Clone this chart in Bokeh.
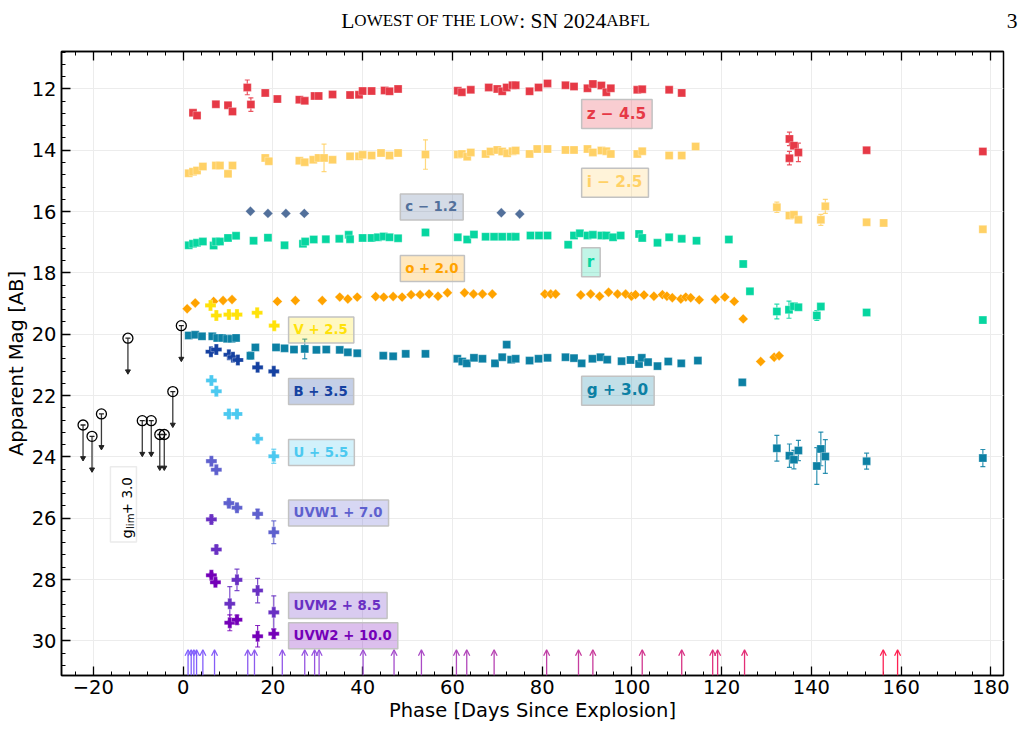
import numpy as np
from bokeh.plotting import figure
from bokeh.models import (Range1d, LinearAxis, FixedTicker, Label, BoxAnnotation,
                          Arrow, OpenHead, ColumnDataSource)
from bokeh.embed import file_html
from bokeh.resources import INLINE
from bokeh.core.properties import value

# ---------------- photometry: phase [d since explosion], AB mag, 1-sigma ----------------
z_t = [2.2, 3.1, 7.3, 10.0, 11.0, 14.3, 15.1, 18.3, 21.0, 25.9, 27.1, 29.3, 30.2, 33.3, 37.2, 39.2,
       40.0, 42.0, 44.9, 46.0, 47.9, 61.2, 62.1, 64.1, 68.1, 70.0, 71.1, 72.1, 73.4, 74.1, 77.2,
       79.2, 81.2, 85.2, 87.1, 90.1, 91.3, 93.2, 94.3, 95.3, 101.2, 102.3, 108.3, 111.1, 135.1,
       136.1, 137.1, 135.1, 152.3, 178.2]
z_mag = [17.28, 17.37, 17.00, 17.03, 17.24, 16.45, 17.01, 16.63, 16.83, 16.85, 16.89, 16.73, 16.73,
         16.68, 16.70, 16.69, 16.57, 16.57, 16.55, 16.58, 16.50, 16.56, 16.61, 16.53, 16.45, 16.50,
         16.58, 16.45, 16.38, 16.38, 16.58, 16.45, 16.32, 16.38, 16.42, 16.48, 16.34, 16.39, 16.61,
         16.48, 16.53, 16.51, 16.53, 16.63, 18.13, 18.35, 18.57, 18.76, 18.50, 18.54]
z_err = [0.03, 0.03, 0.03, 0.03, 0.03, 0.24, 0.22,
         0.03, 0.03, 0.03, 0.03, 0.03, 0.03, 0.03, 0.03, 0.03, 0.03,
         0.03, 0.03, 0.03, 0.03, 0.03, 0.03, 0.03, 0.03, 0.03, 0.03,
         0.03, 0.03, 0.03, 0.03, 0.03, 0.03, 0.03, 0.03, 0.03, 0.03,
         0.03, 0.03, 0.03, 0.03, 0.03, 0.03, 0.03,
         0.22, 0.10, 0.30, 0.22, 0.05, 0.05]

i_t = [1.25, 2.2, 3.1, 4.4, 7.3, 8.2, 10.0, 11.0, 18.3, 19.1, 25.9, 27.1, 29.0, 30.2, 31.4, 33.3,
       37.2, 39.2, 40.0, 42.0, 44.1, 46.0, 47.9, 54.0, 61.2, 62.1, 63.3, 64.1, 67.4, 68.5, 70.0,
       71.1, 72.2, 73.4, 74.1, 77.2, 78.9, 81.2, 85.2, 87.1, 90.1, 91.3, 93.2, 94.3, 95.3, 101.2,
       102.3, 108.3, 111.1, 114.2, 132.3, 135.1, 136.1, 137.1, 142.1, 143.1, 152.3, 156.1, 178.2]
i_mag = [17.25, 17.20, 17.16, 17.03, 17.00, 17.00, 17.27, 17.00, 16.75, 16.86, 16.84, 16.89, 16.81,
         16.75, 16.75, 16.81, 16.70, 16.70, 16.65, 16.67, 16.59, 16.67, 16.59, 16.64, 16.64, 16.62,
         16.71, 16.57, 16.62, 16.54, 16.49, 16.54, 16.60, 16.53, 16.51, 16.62, 16.46, 16.46, 16.49,
         16.49, 16.46, 16.57, 16.51, 16.53, 16.62, 16.62, 16.53, 16.67, 16.67, 16.38, 18.36, 18.63,
         18.60, 18.77, 18.77, 18.33, 18.85, 18.87, 19.08]
i_err = [0.03, 0.03, 0.03, 0.03, 0.03, 0.03, 0.03, 0.03, 0.03, 0.03, 0.03, 0.03, 0.03, 0.03,
         0.45,
         0.03, 0.03, 0.03, 0.03, 0.03, 0.03, 0.03, 0.03,
         0.48,
         0.03, 0.03, 0.03, 0.03, 0.03, 0.03, 0.03, 0.03, 0.03, 0.03, 0.03, 0.03, 0.03,
         0.03, 0.03, 0.03, 0.03, 0.03, 0.03, 0.03, 0.03, 0.03, 0.03, 0.03, 0.03,
         0.08, 0.17, 0.05, 0.05, 0.08, 0.18, 0.23, 0.05, 0.05, 0.05]

c_t = [15.0, 18.9, 22.9, 27.0, 70.9, 75.0]
c_mag = [17.19, 17.26, 17.26, 17.26, 17.24, 17.28]
c_err = [0.03, 0.03, 0.03, 0.03, 0.03, 0.03]

r_t = [1.25, 2.2, 3.1, 4.4, 6.8, 7.3, 8.2, 10.0, 11.8, 15.7, 18.9, 22.6, 26.7, 27.2, 29.1, 31.8,
       34.8, 36.9, 37.2, 40.0, 42.0, 43.4, 44.7, 46.0, 47.9, 54.0, 61.2, 63.3, 64.8, 67.4, 69.3,
       71.1, 73.0, 74.1, 77.4, 79.3, 81.2, 85.8, 87.1, 88.4, 90.1, 91.3, 93.2, 94.3, 95.8, 97.5,
       101.6, 102.3, 105.7, 108.3, 111.1, 114.4, 121.6, 124.8, 126.3, 132.3, 135.0, 136.1, 137.1,
       141.2, 142.1, 152.3, 178.2]
r_mag = [17.10, 17.05, 17.02, 16.98, 17.11, 16.98, 16.98, 16.86, 16.79, 16.95, 16.85, 17.10, 17.05,
         16.98, 16.91, 16.90, 16.89, 16.76, 16.90, 16.86, 16.86, 16.84, 16.81, 16.84, 16.87, 16.68,
         16.84, 16.91, 16.75, 16.82, 16.82, 16.82, 16.82, 16.82, 16.78, 16.78, 16.78, 17.08, 16.78,
         16.71, 16.78, 16.76, 16.78, 16.78, 16.84, 16.78, 16.73, 16.86, 17.02, 16.84, 16.89, 16.95,
         16.91, 17.71, 18.60, 19.26, 19.20, 19.09, 19.12, 19.39, 19.10, 19.29, 19.54]
r_err = [0.03, 0.03, 0.03, 0.03, 0.03, 0.03, 0.03, 0.03, 0.03, 0.03,
         0.03, 0.03, 0.03, 0.03, 0.03, 0.03, 0.03, 0.03, 0.03, 0.03,
         0.03, 0.03, 0.03, 0.03, 0.03,
         0.10,
         0.03, 0.03, 0.03, 0.03, 0.03, 0.03, 0.03, 0.03, 0.03, 0.03,
         0.03, 0.03, 0.03, 0.03, 0.03, 0.03, 0.03, 0.03, 0.03, 0.03,
         0.03, 0.03, 0.03, 0.03, 0.03, 0.03, 0.03,
         0.05, 0.05, 0.24, 0.28, 0.08, 0.08, 0.16, 0.10, 0.05, 0.05]

o_t = [0.9, 2.7, 6.8, 8.9, 10.9, 21.0, 25.0, 31.0, 34.9, 36.7, 38.8, 42.9, 44.7, 46.8, 48.8, 50.8,
       52.8, 54.8, 56.8, 58.9, 62.7, 64.7, 66.7, 68.9, 80.6, 81.9, 83.0, 88.6, 90.8, 92.8, 94.8,
       96.8, 98.6, 99.9, 100.8, 102.7, 104.9, 106.8, 107.8, 109.0, 110.9, 112.0, 113.1, 115.0,
       118.6, 120.7, 122.8, 124.8, 128.7, 131.7, 132.8]
o_mag = [17.17, 16.98, 16.93, 16.90, 16.87, 16.93, 16.90, 16.90, 16.79, 16.85, 16.79, 16.77, 16.79,
         16.77, 16.79, 16.71, 16.71, 16.69, 16.76, 16.65, 16.65, 16.69, 16.69, 16.69, 16.69, 16.69,
         16.69, 16.72, 16.69, 16.76, 16.63, 16.69, 16.69, 16.76, 16.71, 16.72, 16.76, 16.71, 16.76,
         16.81, 16.85, 16.79, 16.81, 16.88, 16.86, 16.79, 16.93, 17.50, 18.89, 18.75, 18.70]
o_err = [0.03, 0.03, 0.03, 0.03, 0.03, 0.03, 0.03, 0.03, 0.03, 0.03,
         0.03, 0.03, 0.03, 0.03, 0.03, 0.03, 0.03, 0.03, 0.03, 0.03,
         0.03, 0.03, 0.03, 0.03, 0.03, 0.03, 0.03, 0.03, 0.03, 0.03,
         0.03, 0.03, 0.03, 0.03, 0.03, 0.03, 0.03, 0.03, 0.03, 0.03,
         0.03, 0.03, 0.03, 0.03, 0.03, 0.03, 0.03, 0.03, 0.03, 0.03,
         0.03]

g_t = [1.25, 2.7, 4.2, 6.5, 7.6, 8.7, 9.8, 10.8, 11.8, 15.0, 16.1, 20.7, 22.6, 24.7, 27.1, 29.7,
       31.9, 34.9, 36.7, 38.8, 44.6, 46.8, 49.6, 54.0, 61.1, 62.2, 63.2, 64.8, 66.7, 69.5, 71.1,
       72.1, 73.1, 74.1, 77.2, 79.2, 81.2, 85.2, 87.1, 88.8, 91.2, 93.0, 94.5, 97.7, 99.7, 101.6,
       102.2, 103.6, 105.7, 108.1, 111.0, 114.7, 124.6, 132.3, 135.1, 136.1, 137.1, 141.2, 142.1,
       143.1, 152.3, 178.2]
g_mag = [17.04, 17.02, 17.07, 17.07, 17.12, 17.12, 17.15, 17.15, 17.12, 17.70, 17.43, 17.43, 17.46,
         17.50, 17.48, 17.51, 17.50, 17.51, 17.59, 17.62, 17.70, 17.72, 17.64, 17.64, 17.80, 17.89,
         17.95, 17.77, 17.80, 17.95, 17.75, 17.34, 17.83, 17.80, 17.86, 17.80, 17.77, 17.75, 17.78,
         17.95, 17.80, 17.75, 17.83, 17.88, 17.84, 17.97, 17.77, 17.91, 18.04, 17.89, 17.95, 17.86,
         18.57, 20.72, 20.96, 21.09, 20.79, 21.30, 20.74, 20.99, 21.14, 21.04]
g_err = [0.03, 0.03, 0.03, 0.03, 0.03, 0.03, 0.03, 0.03, 0.03,
         0.12,
         0.03, 0.03, 0.03, 0.03,
         0.32,
         0.03, 0.03, 0.03, 0.03, 0.03, 0.03, 0.03, 0.03, 0.03, 0.03,
         0.03, 0.03, 0.03, 0.03, 0.03, 0.03, 0.03, 0.03, 0.03, 0.03,
         0.03, 0.03, 0.03, 0.03, 0.03, 0.03, 0.03, 0.03, 0.03, 0.03,
         0.03, 0.03, 0.03, 0.03, 0.03, 0.03, 0.03,
         0.05, 0.42, 0.38, 0.30, 0.33, 0.60, 0.55, 0.55, 0.26, 0.28]

V_t = [6.1, 7.4, 10.2, 12.0, 16.5, 20.3]
V_mag = [16.56, 16.89, 16.86, 16.86, 16.80, 17.22]
V_err = [0.05, 0.05, 0.05, 0.05, 0.05, 0.05]

B_t = [6.2, 7.4, 10.2, 11.1, 12.2, 16.6, 20.2]
B_mag = [17.07, 17.00, 17.17, 17.25, 17.34, 17.58, 17.71]
B_err = [0.05, 0.05, 0.05, 0.05, 0.05, 0.05, 0.05]

U_t = [6.3, 7.4, 10.2, 12.0, 16.6, 20.2]
U_mag = [16.01, 16.36, 17.10, 17.10, 17.91, 18.48]
U_err = [0.05, 0.05, 0.06, 0.06, 0.10, 0.23]

UVW1_t = [6.3, 7.4, 10.2, 12.0, 16.6, 20.2]
UVW1_mag = [17.14, 17.42, 18.51, 18.66, 18.86, 19.46]
UVW1_err = [0.06, 0.06, 0.08, 0.08, 0.15, 0.37]

UVM2_t = [6.3, 7.4, 10.4, 12.0, 16.6, 20.2]
UVM2_mag = [17.54, 18.52, 20.29, 19.51, 19.86, 20.57]
UVM2_err = [0.10, 0.12, 0.56, 0.35, 0.40, 0.54]

UVW2_t = [6.3, 7.2, 10.4, 12.0, 16.6, 20.2]
UVW2_mag = [17.86, 18.09, 19.41, 19.31, 19.85, 19.77]
UVW2_err = [0.08, 0.08, 0.26, 0.15, 0.35, 0.15]

# pre-explosion g-band upper limits
glim_t = [-22.3, -20.3, -18.2, -12.3, -9.1, -7.1, -5.2, -4.2, -2.3, -0.4]
glim_mag = [19.96, 20.33, 19.60, 17.13, 19.82, 19.82, 20.27, 20.27, 18.87, 16.72]
glim_offset = 3.0

# spectroscopic epochs
spec_t = [1.1, 1.8, 2.4, 3.0, 4.4, 7.0, 14.4, 15.9, 22.1, 27.1, 29.3, 30.3, 40.1, 47.0, 53.1,
          60.9, 63.2, 69.3, 81.0, 88.1, 91.3, 102.3, 111.1, 118.0, 119.1, 125.1, 156.0, 159.2]

x_ticks = [-20, 0, 20, 40, 60, 80, 100, 120, 140, 160, 180]
y_ticks = [12, 14, 16, 18, 20, 22, 24, 26, 28, 30]

# band styling: (name, t, mag, err, offset, colour, marker, label box left, label centre, label size)
bands = [
    ("z", z_t, z_mag, z_err, -4.5, "#E63946", "square", 88.8, 12.82, "15.3px"),
    ("i", i_t, i_mag, i_err, -2.5, "#FFD166", "square", 88.8, 15.06, "15.3px"),
    ("c", c_t, c_mag, c_err, -1.2, "#52709B", "diamond", 48.4, 15.85, "13.3px"),
    ("r", r_t, r_mag, r_err, 0.0, "#06D6A0", "square", 88.8, 17.65, "15.3px"),
    ("o", o_t, o_mag, o_err, 2.0, "#FFA300", "diamond", 48.4, 17.86, "13.3px"),
    ("g", g_t, g_mag, g_err, 3.0, "#0C80A4", "square", 88.8, 21.84, "15.3px"),
    ("V", V_t, V_mag, V_err, 2.5, "#FFE20A", "plus", 23.5, 19.86, "13.3px"),
    ("B", B_t, B_mag, B_err, 3.5, "#1541A1", "plus", 23.5, 21.87, "13.3px"),
    ("U", U_t, U_mag, U_err, 5.5, "#4CC9F0", "plus", 23.5, 23.86, "13.3px"),
    ("UVW1", UVW1_t, UVW1_mag, UVW1_err, 7.0, "#5E60CE", "plus", 23.5, 25.83, "13.3px"),
    ("UVM2", UVM2_t, UVM2_mag, UVM2_err, 8.5, "#6930C3", "plus", 23.5, 28.85, "13.3px"),
    ("UVW2", UVW2_t, UVW2_mag, UVW2_err, 10.0, "#7400B8", "plus", 23.5, 29.83, "13.3px"),
]

FONT = "DejaVu Sans"
FRAME_L, FRAME_R = 61, 1003

# ---------------- running header (its own root, so its frame spans the page width) ----------------
hdr = figure(width=1024, height=40, x_range=Range1d(0, 1024), y_range=Range1d(40, 0),
             toolbar_location=None, output_backend="svg", x_axis_type=None, y_axis_type=None,
             min_border=0, outline_line_color=None)
# Times-compatible advance widths (per 1000 em) for the small-caps header
TW = {"L": 611, "O": 722, "W": 944, "E": 611, "S": 556, "T": 611, " ": 250, "F": 556, "H": 722,
      ":": 278, "N": 722, "2": 500, "0": 500, "4": 500, "A": 722, "B": 667, "3": 500}
BIG, SMALL = 21.5, 17.0
pieces = [("L", BIG), ("OWEST OF THE LOW", SMALL), (": SN 2024", BIG), ("ABFL", SMALL)]
total = sum(sum(TW[ch] for ch in s) * sz / 1000 for s, sz in pieces)
xpos = 495 - total / 2
for s, sz in pieces:
    hdr.text(x=[xpos], y=[20], text=[s], text_font=value("Liberation Serif"),
             text_font_size=f"{sz}px", text_align="left", text_baseline="alphabetic",
             text_color="black")
    xpos += sum(TW[ch] for ch in s) * sz / 1000
hdr.text(x=[1017], y=[20], text=["3"], text_font=value("Liberation Serif"),
         text_font_size=f"{BIG}px", text_align="right", text_baseline="alphabetic",
         text_color="black")

# ---------------- light-curve panel ----------------
p = figure(width=1024, height=690, x_range=Range1d(-27.1, 182.8), y_range=Range1d(31.13, 10.78),
           toolbar_location=None, output_backend="svg",
           min_border_left=FRAME_L, min_border_right=1024 - FRAME_R, min_border_top=11,
           min_border_bottom=55,
           x_axis_label="Phase [Days Since Explosion]", y_axis_label="Apparent Mag [AB]")
p.background_fill_color = "white"
p.border_fill_color = "white"
p.outline_line_color = "black"
p.outline_line_width = 1.5

xticker = FixedTicker(ticks=x_ticks, minor_ticks=list(range(-24, 184, 4)))
yticker = FixedTicker(ticks=y_ticks, minor_ticks=[round(10.8 + 0.4 * k, 1) for k in range(52)])
p.xaxis.ticker = xticker
p.yaxis.ticker = yticker
p.xgrid.ticker = xticker
p.ygrid.ticker = yticker
for g in (p.xgrid, p.ygrid):
    g.grid_line_color = "#ececec"
    g.grid_line_width = 1

p.xaxis.major_label_overrides = {t: (f"\u2212{abs(t)}" if t < 0 else str(t)) for t in x_ticks}

for ax in (p.xaxis, p.yaxis):
    ax.axis_line_width = 1.5
    ax.major_tick_in = 9
    ax.major_tick_out = 0
    ax.minor_tick_in = 4
    ax.minor_tick_out = 0
    ax.major_tick_line_width = 1.3
    ax.minor_tick_line_width = 1.0
    ax.major_label_text_font = FONT
    ax.major_label_text_font_size = "19.5px"
    ax.major_label_text_color = "black"
    ax.axis_label_text_font = FONT
    ax.axis_label_text_font_size = "19.5px"
    ax.axis_label_text_font_style = "normal"
    ax.axis_label_text_color = "black"
p.yaxis.major_label_standoff = 5
p.yaxis.axis_label_standoff = 1
p.xaxis.major_label_standoff = 4
p.xaxis.axis_label_standoff = 2

# mirrored ticks along the top edge
top_axis = LinearAxis(ticker=xticker, major_label_overrides={t: "" for t in x_ticks},
                      major_label_text_font_size="1px", major_label_standoff=0,
                      major_tick_in=9, major_tick_out=0, minor_tick_in=4, minor_tick_out=0,
                      axis_line_width=1.5, major_tick_line_width=1.3, minor_tick_line_width=1.0)
p.add_layout(top_axis, "above")

# pre-explosion upper limits (shifted like g)
lim = np.array(glim_mag) + glim_offset
LIM_LEN = 1.08
p.segment(x0=glim_t, y0=lim, x1=glim_t, y1=lim + LIM_LEN, line_color="#3a3a3a", line_width=1.3)
p.scatter(x=glim_t, y=lim, marker="dash", size=5, line_color="#222222", line_width=1.3)
p.scatter(x=glim_t, y=lim + LIM_LEN, marker="inverted_triangle", size=5,
          fill_color="#222222", line_color="#222222")
p.scatter(x=glim_t, y=lim, marker="circle", size=10, fill_color=None,
          line_color="black", line_width=1.3)

p.add_layout(BoxAnnotation(left=-16.2, right=-10.4, top=24.32, bottom=26.78,
                           fill_color="white", fill_alpha=1.0, level="underlay",
                           line_color="#bcbcbc", line_width=1.5))
p.text(x=[-12.4], y=[26.66], text=["g"], angle=np.pi / 2, text_font=value(FONT),
       text_font_size="14.5px", text_align="left", text_baseline="alphabetic", text_color="black")
p.text(x=[-11.75], y=[26.35], text=["lim"], angle=np.pi / 2, text_font=value(FONT),
       text_font_size="10px", text_align="left", text_baseline="alphabetic", text_color="black")
p.text(x=[-12.4], y=[25.87], text=[f" + {glim_offset:.1f}"], angle=np.pi / 2,
       text_font=value(FONT), text_font_size="13.5px", text_align="left",
       text_baseline="alphabetic", text_color="black")

# photometry by band
for name, t, mag, err, off, col, mk, lx, ly, lsize in bands:
    t = np.array(t, dtype=float)
    y = np.array(mag, dtype=float) + off
    e = np.array(err, dtype=float)
    show = e > 0.06
    if show.any():
        te, ye, ee = t[show], y[show], e[show]
        p.segment(x0=te, y0=ye - ee, x1=te, y1=ye + ee, line_color=col, line_width=1.2,
                  line_alpha=0.85)
        p.scatter(x=np.concatenate([te, te]), y=np.concatenate([ye - ee, ye + ee]),
                  marker="dash", size=5, line_color=col, line_width=1.2, line_alpha=0.85)
    if mk == "square":
        p.scatter(x=t, y=y, marker="square", size=8, fill_color=col, line_color="white",
                  line_width=0.5, line_alpha=0.6)
    elif mk == "diamond":
        p.scatter(x=t, y=y, marker="square", angle=np.pi / 4, size=7, fill_color=col,
                  line_color="white", line_width=0.5, line_alpha=0.6)
    else:
        p.scatter(x=t, y=y, marker="plus", size=11, fill_color=col, line_color="white",
                  line_width=0.5, line_alpha=0.6)

    if off == 0:
        txt = name
    else:
        txt = f"{name} {'+' if off > 0 else chr(0x2212)} {abs(off):.1f}"
    p.add_layout(Label(x=lx, y=ly, text=txt, text_align="left",
                       text_baseline="middle", text_font=FONT, text_font_size=lsize,
                       text_font_style="bold", text_color=col,
                       background_fill_color=col, background_fill_alpha=0.25,
                       border_line_color="#c2c2c2", border_line_width=1.5,
                       padding=(5, 6, 5, 6)))

# spectral epochs as arrows rising from the bottom axis
def epoch_colour(t):
    f = min(max(t / 160.0, 0.0), 1.0)
    c0, c1 = (128, 96, 255), (255, 32, 80)
    r, g, b = (int(round(a + (bb - a) * f)) for a, bb in zip(c0, c1))
    return f"#{r:02x}{g:02x}{b:02x}"

spec_src = ColumnDataSource(dict(
    t=spec_t,
    y0=[p.y_range.start] * len(spec_t),
    y1=[30.29] * len(spec_t),
    col=[epoch_colour(t) for t in spec_t],
))
p.add_layout(Arrow(source=spec_src, x_start="t", y_start="y0", x_end="t", y_end="y1",
                   line_color="col", line_width=1.3,
                   end=OpenHead(size=6, line_color="col", line_width=1.3)))

with open("out.html", "w") as f:
    f.write(file_html([hdr, p], INLINE))
